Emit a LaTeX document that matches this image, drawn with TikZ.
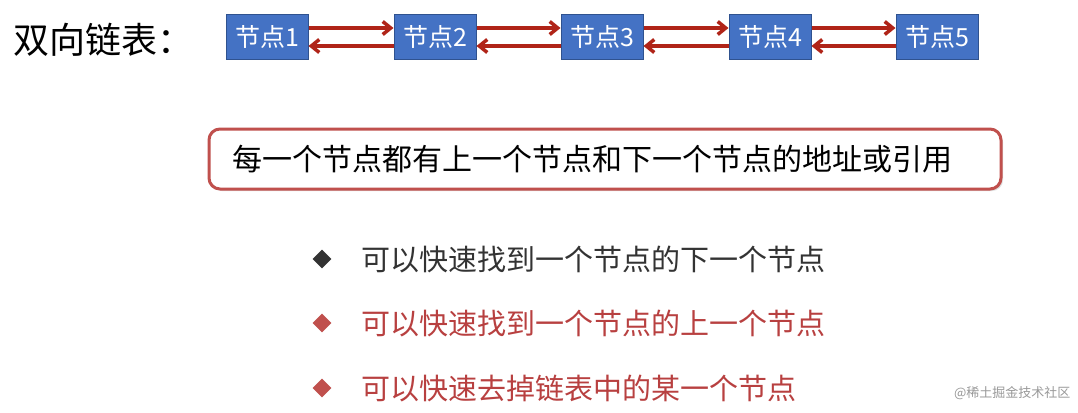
\documentclass[tikz,border=0pt]{standalone}
\usepackage{fontspec}
\newfontfamily\cjk{Noto Sans CJK SC}
\usetikzlibrary{arrows.meta,shapes.geometric,shadows}
\definecolor{nodeblue}{HTML}{4472C4}
\definecolor{nodeedge}{HTML}{2F528F}
\definecolor{arr}{HTML}{B02418}
\definecolor{boxred}{HTML}{C0504D}
\definecolor{txtred}{HTML}{B84040}
\tikzset{
 lnode/.style={draw=nodeedge,line width=1pt,fill=nodeblue,text=white,minimum width=82pt,minimum height=45pt,inner sep=0pt,font=\cjk\fontsize{25pt}{25pt}\selectfont},
 larrow/.style={draw=arr,line width=3.5pt,-{Straight Barb[length=8pt,width=13pt]}},
 bul/.style={diamond,aspect=1,inner sep=0pt,minimum size=19pt},
 btext/.style={anchor=west,font=\cjk\fontsize{29pt}{29pt}\selectfont}
}
\begin{document}
\begin{tikzpicture}[x=1pt,y=-1pt]
\useasboundingbox[fill=white] (0,0) rectangle (1078,412);
\node[anchor=west,font=\cjk\fontsize{36pt}{36pt}\selectfont] (title) at (10,40) {双向链表：};
\foreach \i/\x in {1/267,2/435,3/602,4/770,5/937}{
 \node[lnode] (n\i) at (\x,37) {节点\i};
}
\foreach \a/\b in {1/2,2/3,3/4,4/5}{
 \draw[larrow] ([yshift=9pt]n\a.east) -- ([yshift=9pt]n\b.west);
 \draw[larrow] ([yshift=-9pt]n\b.west) -- ([yshift=-9pt]n\a.east);
}
\node[draw=boxred,line width=3pt,rounded corners=11pt,minimum width=792pt,minimum height=60pt,drop shadow={opacity=0.25,shadow xshift=2pt,shadow yshift=-2pt},fill=white] (box) at (605,159) {};
\node[font=\cjk\fontsize{30pt}{30pt}\selectfont] (boxtext) at (592,159) {每一个节点都有上一个节点和下一个节点的地址或引用};
\node[bul,fill=black!80] (d1) at (322,259) {};
\node[btext,text=black!80] (t1) at (358,260) {可以快速找到一个节点的下一个节点};
\node[bul,fill=boxred] (d2) at (322,323) {};
\node[btext,text=txtred] (t2) at (358,324) {可以快速找到一个节点的上一个节点};
\node[bul,fill=boxred] (d3) at (322,388) {};
\node[btext,text=txtred] (t3) at (358,389) {可以快速去掉链表中的某一个节点};
\node[anchor=east,text=black!40,font=\cjk\fontsize{13pt}{13pt}\selectfont] (wm) at (1074,393) {@稀土掘金技术社区};
\end{tikzpicture}
\end{document}
